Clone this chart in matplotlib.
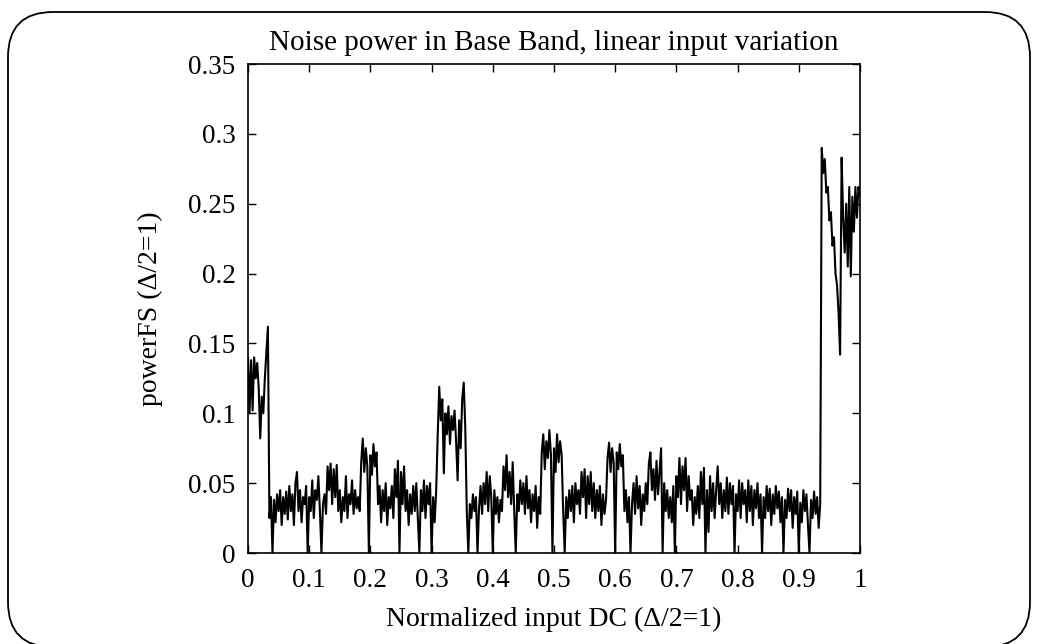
import numpy as np
import matplotlib.pyplot as plt
from matplotlib.patches import FancyBboxPatch

plt.rcParams['font.family'] = ['Liberation Serif', 'DejaVu Serif']

# noise power, in thousandths, segment by segment (x step 0.0025)
start_block = [140, 100, 138, 102, 140, 125, 136, 118, 82, 112, 100, 125, 143, 162]
floor_a = [25, 40, 0, 38, 22, 42, 30, 45, 20, 40,
           28, 44, 24, 48, 30, 42, 20, 50, 58, 30,
           45, 22, 40, 35, 48, 0, 40, 30, 52, 25,
           45, 38, 55, 30, 0, 35, 42, 28, 62, 45,
           64, 35, 60, 40, 63, 30, 45, 22, 40, 30,
           55, 25, 42, 35, 52, 28, 45, 32, 40, 30]
block_02 = [65, 82, 58, 75, 62, 0, 70, 56, 78, 62, 72]
floor_b = [35, 48, 22, 45, 30, 50, 20, 40, 32, 48,
           25, 60, 40, 66, 0, 58, 35, 62, 30, 45,
           20, 42, 28, 48, 30, 50, 25, 0, 45, 30,
           52, 25, 48, 35, 50, 0, 40, 22, 45]
block_03 = [85, 119, 95, 110, 57, 100, 85, 105, 78, 98,
            88, 102, 80, 52, 95, 75, 110, 122, 90]
floor_c = [30, 0, 35, 25, 42, 30, 40, 0, 32, 48,
           28, 50, 35, 58, 30, 55, 40, 0, 45, 28,
           40, 22, 38, 30, 62, 45, 70, 40, 58, 35,
           65, 30, 0, 42, 30, 52, 35, 50, 28, 55,
           32, 45, 22, 42, 30, 48, 18, 40, 28]
block_05 = [72, 85, 60, 80, 68, 88, 70, 0, 75, 58, 85, 65, 80, 70]
floor_d = [30, 0, 40, 25, 45, 30, 48, 22, 50, 35,
           45, 28, 58, 40, 60, 25, 55, 35, 58, 30,
           50, 25, 45, 30, 48, 20, 42, 28, 38]
block_06 = [68, 79, 58, 75, 65, 0, 72, 60, 78, 62, 70]
floor_e = [30, 45, 22, 40, 0, 35, 50, 28, 55, 32,
           48, 20, 42, 30, 50, 35, 64, 72, 45, 60,
           38, 66, 42, 58, 75, 0, 50, 30, 45, 25,
           40, 22, 48, 0, 55, 40, 68, 35, 62, 45,
           68, 30, 55, 38, 45, 20, 40, 28, 48, 25,
           58, 35, 61, 0, 45, 15, 55, 30, 50, 25,
           45, 62, 35, 50, 25, 45, 30, 54, 28, 50,
           35, 48, 0, 42, 30, 52, 25, 50, 35, 45,
           22, 52, 30, 48, 20, 45, 32, 50, 25, 42,
           0, 40, 25, 48, 30, 46, 20, 42, 28, 48,
           32, 44, 22, 40, 0, 38, 25, 46, 30, 45,
           18, 40, 28, 44, 0, 36, 22, 45, 30, 42,
           20, 0, 38, 25, 44, 28, 40, 18, 35]
end_block = [290, 272, 282, 258, 262, 238, 244, 220, 226, 200,
             192, 172, 142, 283, 240, 215, 250, 205, 262, 198,
             255, 230, 262, 240, 262, 256]

power = np.array(start_block + floor_a + block_02 + floor_b + block_03 + floor_c
                 + block_05 + floor_d + block_06 + floor_e + end_block) / 1000.0
dc = np.linspace(0, 1, len(power))

fig = plt.figure(figsize=(10.39, 6.44), dpi=100)
ax = fig.add_axes([0.2387, 0.1413, 0.589, 0.7593])

ax.plot(dc, power, color='black', lw=1.5)

ax.set_xlim(0, 1)
ax.set_ylim(0, 0.35)
ax.set_xticks(np.arange(0, 1.01, 0.1))
ax.set_xticklabels(['0', '0.1', '0.2', '0.3', '0.4', '0.5', '0.6', '0.7', '0.8', '0.9', '1'])
ax.set_yticks(np.arange(0, 0.351, 0.05))
ax.set_yticklabels(['0', '0.05', '0.1', '0.15', '0.2', '0.25', '0.3', '0.35'])
ax.tick_params(direction='in', top=True, right=True, length=6, width=1,
               labelsize=19.5)
ax.tick_params(axis='x', pad=11)
ax.tick_params(axis='y', pad=9)
for s in ax.spines.values():
    s.set_linewidth(1.2)

ax.set_title('Noise power in Base Band, linear input variation', fontsize=21, pad=10)
ax.set_xlabel('Normalized input DC (\u0394/2=1)', fontsize=20, labelpad=10)
ax.set_ylabel('powerFS (\u0394/2=1)', fontsize=20, labelpad=18)

# rounded frame around the whole figure
frame = FancyBboxPatch((0.08, -0.03), 10.22, 6.35,
                       boxstyle='round,pad=0,rounding_size=0.45',
                       transform=fig.dpi_scale_trans, fill=False,
                       edgecolor='black', lw=1.3)
fig.patches.append(frame)

fig.savefig('out.png', dpi=100)
